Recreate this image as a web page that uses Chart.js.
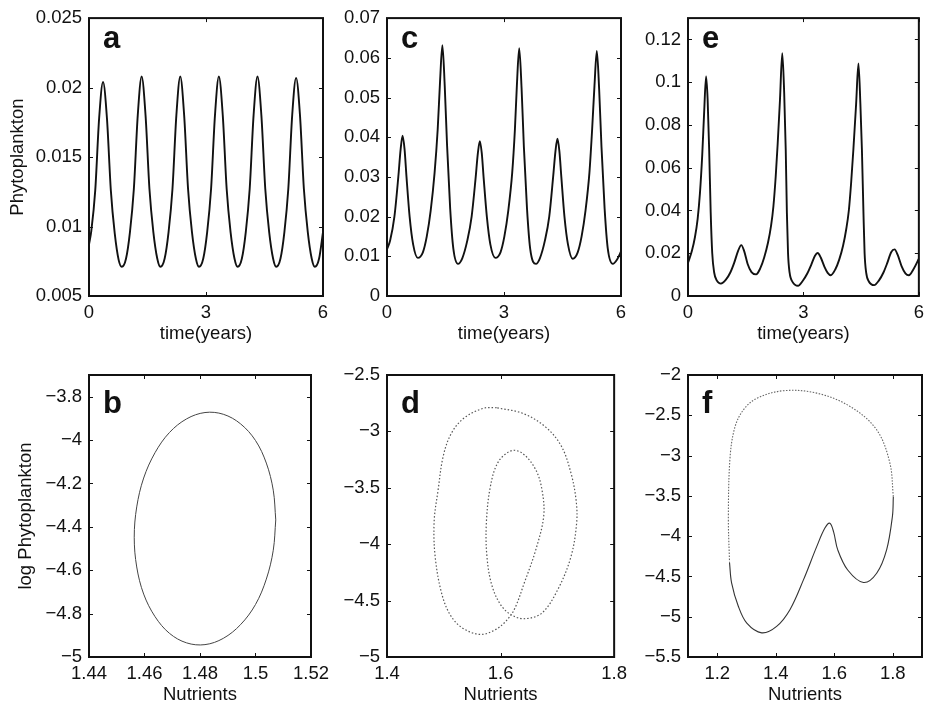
<!DOCTYPE html>
<html>
<head>
  <title>Phytoplankton dynamics</title>
  <script src="https://cdn.jsdelivr.net/npm/chart.js"></script>
  <style>
    body { margin: 0; background: #fff; }
    canvas { position: absolute; }
  </style>
</head>
<body>
  <canvas id="chart-a" width="335" height="348" style="left:0px;top:0px"></canvas>
  <canvas id="chart-c" width="306" height="348" style="left:327px;top:0px"></canvas>
  <canvas id="chart-e" width="302" height="348" style="left:628px;top:0px"></canvas>
  <canvas id="chart-b" width="335" height="356" style="left:0px;top:352px"></canvas>
  <canvas id="chart-d" width="306" height="356" style="left:327px;top:352px"></canvas>
  <canvas id="chart-f" width="302" height="356" style="left:628px;top:352px"></canvas>
  <script>
    // time series (years, phytoplankton)
    const aTime = [0, 0.06, 0.16, 0.26, 0.36, 0.46, 0.56, 0.66, 0.76, 0.84,
      0.95, 1.05, 1.15, 1.25, 1.35, 1.45, 1.55, 1.65, 1.75, 1.83,
      1.94, 2.04, 2.14, 2.24, 2.34, 2.44, 2.54, 2.64, 2.74, 2.82,
      2.93, 3.03, 3.13, 3.23, 3.33, 3.43, 3.53, 3.63, 3.73, 3.81,
      3.92, 4.02, 4.12, 4.22, 4.32, 4.42, 4.52, 4.62, 4.72, 4.80,
      4.91, 5.01, 5.11, 5.21, 5.31, 5.41, 5.51, 5.61, 5.71, 5.79,
      5.90, 6.00];
    const aPhyto = [0.0087, 0.0097, 0.0126, 0.0178, 0.0204, 0.0178, 0.0126, 0.0095, 0.0076, 0.0071,
      0.0077, 0.0096, 0.0127, 0.0180, 0.0208, 0.0180, 0.0127, 0.0096, 0.0077, 0.0071,
      0.0077, 0.0096, 0.0127, 0.0180, 0.0208, 0.0180, 0.0127, 0.0096, 0.0077, 0.0071,
      0.0077, 0.0096, 0.0127, 0.0180, 0.0208, 0.0180, 0.0127, 0.0096, 0.0077, 0.0071,
      0.0077, 0.0096, 0.0127, 0.0180, 0.0208, 0.0180, 0.0127, 0.0096, 0.0077, 0.0071,
      0.0077, 0.0096, 0.0127, 0.0180, 0.0207, 0.0180, 0.0127, 0.0096, 0.0077, 0.0071,
      0.0077, 0.0096];

    const cTime = [0, 0.08, 0.19, 0.29, 0.35, 0.40, 0.45, 0.50, 0.58, 0.67, 0.79,
      0.92, 1.02, 1.12, 1.22, 1.30, 1.36, 1.42, 1.48, 1.54, 1.62, 1.70, 1.82,
      1.93, 2.06, 2.17, 2.27, 2.33, 2.38, 2.43, 2.48, 2.56, 2.65, 2.78,
      2.91, 3.01, 3.11, 3.21, 3.28, 3.33, 3.39, 3.45, 3.51, 3.59, 3.67, 3.82,
      3.92, 4.05, 4.16, 4.26, 4.32, 4.37, 4.42, 4.47, 4.55, 4.64, 4.76,
      4.89, 4.99, 5.09, 5.19, 5.26, 5.32, 5.38, 5.44, 5.50, 5.58, 5.66, 5.79,
      5.90, 6.00];
    const cPhyto = [0.0118, 0.0140, 0.0200, 0.0300, 0.0370, 0.0404, 0.0370, 0.0300, 0.0200, 0.0130, 0.0096,
      0.0110, 0.0150, 0.0215, 0.0310, 0.0420, 0.0540, 0.0632, 0.0530, 0.0380, 0.0220, 0.0120, 0.0081,
      0.0095, 0.0140, 0.0200, 0.0295, 0.0360, 0.0390, 0.0360, 0.0295, 0.0200, 0.0130, 0.0096,
      0.0110, 0.0150, 0.0215, 0.0310, 0.0420, 0.0530, 0.0624, 0.0525, 0.0375, 0.0220, 0.0120, 0.0081,
      0.0095, 0.0140, 0.0200, 0.0300, 0.0365, 0.0396, 0.0365, 0.0300, 0.0200, 0.0130, 0.0094,
      0.0110, 0.0150, 0.0215, 0.0310, 0.0420, 0.0530, 0.0617, 0.0520, 0.0375, 0.0220, 0.0120, 0.0081,
      0.0092, 0.0112];

    const eTime = [0, 0.10, 0.18, 0.25, 0.31, 0.37, 0.42, 0.47, 0.51, 0.55, 0.59, 0.63, 0.68, 0.75, 0.855,
      0.98, 1.10, 1.20, 1.30, 1.385, 1.46, 1.55, 1.65, 1.77,
      1.88, 1.98, 2.08, 2.16, 2.22, 2.28, 2.33, 2.39, 2.45, 2.50, 2.54, 2.57, 2.60, 2.64, 2.72, 2.86,
      2.98, 3.10, 3.20, 3.30, 3.37, 3.45, 3.55, 3.63, 3.71,
      3.83, 3.93, 4.03, 4.11, 4.18, 4.24, 4.30, 4.37, 4.43, 4.48, 4.52, 4.56, 4.59, 4.63, 4.70, 4.84,
      4.96, 5.08, 5.18, 5.28, 5.37, 5.45, 5.55, 5.65, 5.74,
      5.86, 6.00];
    const ePhyto = [0.0155, 0.0210, 0.0275, 0.0360, 0.0480, 0.0660, 0.0860, 0.1027, 0.0920, 0.0685, 0.0390, 0.0200, 0.0110, 0.0072, 0.0058,
      0.0075, 0.0110, 0.0155, 0.0210, 0.0238, 0.0210, 0.0150, 0.0112, 0.0101,
      0.0130, 0.0180, 0.0250, 0.0330, 0.0420, 0.0560, 0.0710, 0.0916, 0.1136, 0.0950, 0.0685, 0.0390, 0.0200, 0.0110, 0.0065, 0.0048,
      0.0070, 0.0105, 0.0145, 0.0188, 0.0201, 0.0180, 0.0135, 0.0108, 0.0097,
      0.0125, 0.0170, 0.0235, 0.0310, 0.0400, 0.0530, 0.0690, 0.0900, 0.1088, 0.0900, 0.0685, 0.0390, 0.0200, 0.0110, 0.0068, 0.0051,
      0.0072, 0.0110, 0.0155, 0.0205, 0.0218, 0.0192, 0.0140, 0.0106, 0.0097,
      0.0125, 0.0174];

    // phase portraits (nutrients, log phytoplankton)
    const bNutr = [1.5073, 1.5064, 1.5039, 1.5000, 1.4946, 1.4884, 1.4818, 1.4752, 1.4690, 1.4638, 1.4597, 1.4572, 1.4563,
      1.4572, 1.4597, 1.4638, 1.4690, 1.4752, 1.4818, 1.4884, 1.4946, 1.5000, 1.5039, 1.5064, 1.5073];
    const bLogP = [-4.368, -4.231, -4.106, -4.002, -3.925, -3.881, -3.873, -3.902, -3.965, -4.058, -4.175, -4.308, -4.448,
      -4.585, -4.710, -4.814, -4.891, -4.935, -4.943, -4.914, -4.851, -4.758, -4.641, -4.508, -4.368];

    const dNutr = [1.593, 1.570, 1.536, 1.513, 1.499, 1.490, 1.483, 1.485, 1.497, 1.513, 1.535, 1.565, 1.590, 1.608,
      1.624, 1.642, 1.662, 1.676, 1.673, 1.662, 1.640, 1.620, 1.596, 1.582, 1.575, 1.576, 1.585, 1.602, 1.622,
      1.644, 1.673, 1.701, 1.724, 1.734, 1.733, 1.724, 1.707, 1.679, 1.639, 1.593];
    const dLogP = [-2.79, -2.795, -2.88, -3.02, -3.22, -3.52, -3.80, -4.12, -4.45, -4.64, -4.75, -4.80, -4.76, -4.69,
      -4.58, -4.34, -4.05, -3.75, -3.52, -3.34, -3.20, -3.17, -3.27, -3.49, -3.81, -4.11, -4.37, -4.55, -4.635,
      -4.66, -4.61, -4.40, -4.11, -3.81, -3.61, -3.37, -3.13, -2.96, -2.84, -2.79];

    const fLowNutr = [1.242, 1.249, 1.272, 1.301, 1.352, 1.403, 1.449, 1.495, 1.540, 1.568, 1.585, 1.598, 1.612,
      1.646, 1.700, 1.745, 1.779, 1.799, 1.802];
    const fLowLogP = [-4.33, -4.58, -4.87, -5.08, -5.20, -5.12, -4.91, -4.54, -4.13, -3.90, -3.84, -3.95, -4.17,
      -4.42, -4.575, -4.46, -4.17, -3.75, -3.51];
    const fUpNutr = [1.802, 1.790, 1.745, 1.654, 1.540, 1.426, 1.335, 1.290, 1.261, 1.244, 1.238, 1.242];
    const fUpLogP = [-3.51, -3.09, -2.68, -2.39, -2.225, -2.195, -2.29, -2.43, -2.64, -3.01, -3.76, -4.33];

    // tick labels
    const timeTicks = [0, 3, 6];
    const aTicks = [0.005, 0.01, 0.015, 0.02, 0.025];
    const cTicks = [0, 0.01, 0.02, 0.03, 0.04, 0.05, 0.06, 0.07];
    const eTicks = [0, 0.02, 0.04, 0.06, 0.08, 0.1, 0.12];
    const bXTicks = [1.44, 1.46, 1.48, 1.5, 1.52];
    const bYTicks = [-5, -4.8, -4.6, -4.4, -4.2, -4, -3.8];
    const dXTicks = [1.4, 1.6, 1.8];
    const dYTicks = [-5, -4.5, -4, -3.5, -3, -2.5];
    const fXTicks = [1.2, 1.4, 1.6, 1.8];
    const fYTicks = [-5.5, -5, -4.5, -4, -3.5, -3, -2.5, -2];

    const FONT = "'Liberation Sans', Arial, sans-serif";
    const INK = "#111";

    function pairs(xs, ys) {
      return xs.map((x, i) => ({ x: x, y: ys[i] }));
    }

    // matlab-style box with inward ticks and a bold panel letter
    const boxPlugin = {
      id: "box",
      afterDatasetsDraw(chart, args, opts) {
        const ctx = chart.ctx;
        const { left, top, right, bottom } = chart.chartArea;
        const sx = chart.scales.x, sy = chart.scales.y;
        ctx.save();
        ctx.strokeStyle = INK;
        ctx.lineWidth = 1;
        ctx.beginPath();
        sx.ticks.forEach(t => {
          const px = Math.round(sx.getPixelForValue(t.value)) + 0.5;
          ctx.moveTo(px, bottom); ctx.lineTo(px, bottom - 4);
          ctx.moveTo(px, top); ctx.lineTo(px, top + 4);
        });
        sy.ticks.forEach(t => {
          const py = Math.round(sy.getPixelForValue(t.value)) + 0.5;
          ctx.moveTo(left, py); ctx.lineTo(left + 4, py);
          ctx.moveTo(right, py); ctx.lineTo(right - 4, py);
        });
        ctx.stroke();
        ctx.lineWidth = 2;
        ctx.strokeRect(left, top, right - left, bottom - top);
        ctx.fillStyle = INK;
        ctx.font = "bold 31px " + FONT;
        ctx.textBaseline = "alphabetic";
        ctx.fillText(opts.letter, left + 14, top + opts.dy);
        ctx.restore();
      }
    };

    function fmt(v) {
      return String(v).replace("-", "\u2212");
    }

    function makePanel(id, p) {
      const ctx = document.getElementById(id).getContext("2d");
      return new Chart(ctx, {
        type: "scatter",
        data: { datasets: p.datasets },
        options: {
          responsive: false,
          animation: false,
          devicePixelRatio: 1,
          layout: { padding: { top: p.padTop, right: p.padRight, left: 0, bottom: 0 } },
          plugins: {
            legend: { display: false },
            tooltip: { enabled: false },
            box: { letter: p.letter, dy: p.letterDy }
          },
          scales: {
            x: {
              type: "linear",
              min: p.xMin,
              max: p.xMax,
              afterBuildTicks: s => { s.ticks = p.xTicks.map(v => ({ value: v })); },
              afterFit: s => { s.height = p.xAxisH; },
              grid: { display: false, drawTicks: false },
              border: { display: false },
              ticks: {
                autoSkip: false, maxRotation: 0, padding: 6, color: INK,
                font: { family: FONT, size: 18.5 },
                callback: v => fmt(v)
              },
              title: {
                display: true, text: p.xTitle, color: INK,
                font: { family: FONT, size: 18.5 },
                padding: { top: 0, bottom: p.xTitlePad }
              }
            },
            y: {
              type: "linear",
              min: p.yMin,
              max: p.yMax,
              afterBuildTicks: s => { s.ticks = p.yTicks.map(v => ({ value: v })); },
              afterFit: s => { s.width = p.yAxisW; },
              grid: { display: false, drawTicks: false },
              border: { display: false },
              ticks: {
                autoSkip: false, padding: 7, color: INK,
                font: { family: FONT, size: 18.5 },
                callback: v => fmt(v)
              },
              title: {
                display: !!p.yTitle, text: p.yTitle || "", color: INK,
                font: { family: FONT, size: 18.5 },
                padding: { top: p.yTitlePad || 0, bottom: 0 }
              }
            }
          }
        },
        plugins: [boxPlugin]
      });
    }

    function series(xs, ys) {
      return {
        data: pairs(xs, ys), showLine: true, pointRadius: 0,
        borderColor: INK, borderWidth: 1.9, cubicInterpolationMode: "monotone"
      };
    }

    function orbit(xs, ys, color, dash, width) {
      return {
        data: pairs(xs, ys), showLine: true, pointRadius: 0, tension: 0.35,
        borderColor: color, borderWidth: width, borderDash: dash
      };
    }

    const topRow = { padTop: 14, xAxisH: 52, xTitle: "time(years)", xTitlePad: 3, xMin: 0, xMax: 6, xTicks: timeTicks, letterDy: 30 };
    const bottomRow = { padTop: 23, xAxisH: 51, xTitle: "Nutrients", xTitlePad: 2, letterDy: 38 };

    makePanel("chart-a", Object.assign({}, topRow, {
      letter: "a", padRight: 12, yAxisW: 89, yMin: 0.005, yMax: 0.025, yTicks: aTicks,
      yTitle: "Phytoplankton", yTitlePad: 7, datasets: [series(aTime, aPhyto)]
    }));
    makePanel("chart-c", Object.assign({}, topRow, {
      letter: "c", padRight: 12, yAxisW: 60, yMin: 0, yMax: 0.07, yTicks: cTicks,
      datasets: [series(cTime, cPhyto)]
    }));
    makePanel("chart-e", Object.assign({}, topRow, {
      letter: "e", padRight: 8, yAxisW: 60, yMin: 0, yMax: 0.13, yTicks: eTicks,
      datasets: [series(eTime, ePhyto)]
    }));
    makePanel("chart-b", Object.assign({}, bottomRow, {
      letter: "b", padRight: 12, yAxisW: 89, xMin: 1.44, xMax: 1.52, xTicks: bXTicks,
      yMin: -5, yMax: -3.7, yTicks: bYTicks, yTitle: "log Phytoplankton", yTitlePad: 15,
      datasets: [orbit(bNutr, bLogP, "#444", [], 1)]
    }));
    makePanel("chart-d", Object.assign({}, bottomRow, {
      letter: "d", padRight: 12, yAxisW: 60, xMin: 1.4, xMax: 1.8, xTicks: dXTicks,
      yMin: -5, yMax: -2.5, yTicks: dYTicks,
      datasets: [orbit(dNutr, dLogP, "#555", [1.5, 2], 1.2)]
    }));
    makePanel("chart-f", Object.assign({}, bottomRow, {
      letter: "f", padRight: 8, yAxisW: 60, xMin: 1.1, xMax: 1.9, xTicks: fXTicks,
      yMin: -5.5, yMax: -2, yTicks: fYTicks,
      datasets: [
        orbit(fLowNutr, fLowLogP, "#333", [], 1.1),
        orbit(fUpNutr, fUpLogP, "#666", [1.5, 1.5], 1.1)
      ]
    }));
  </script>
</body>
</html>
